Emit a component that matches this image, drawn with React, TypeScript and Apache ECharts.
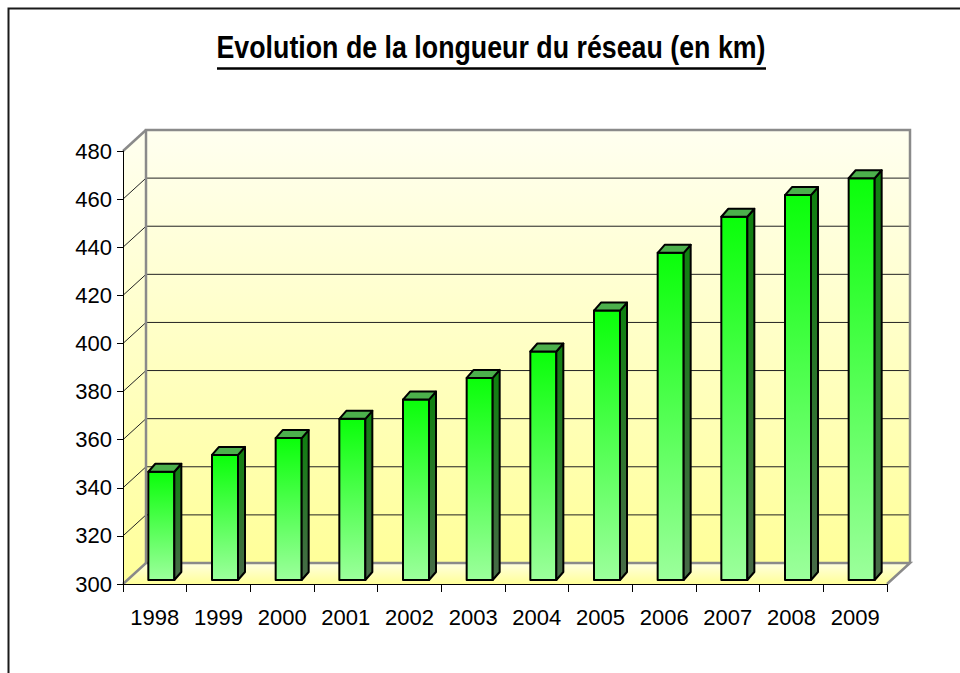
import React, { useEffect, useRef } from "react";
import * as echarts from "echarts";

const years = ["1998", "1999", "2000", "2001", "2002", "2003", "2004", "2005", "2006", "2007", "2008", "2009"];
const lengths = [345, 352, 359, 367, 375, 384, 395, 412, 436, 451, 460, 467];
const yMin = 300;
const yMax = 480;
const yStep = 20;
const titleText = "Evolution de la longueur du réseau (en km)";

const FONT = "'Liberation Sans', Arial, sans-serif";

export default function App() {
  const ref = useRef<HTMLDivElement>(null);
  useEffect(() => {
    if (!ref.current) return;
    const chart = echarts.init(ref.current, null, { renderer: "svg" });
    const D = [23, -21];

    const wallsRender = (params: any, api: any) => {
      const p0 = api.coord([0, yMin]);
      const bw = api.size([1, 0])[0];
      const xL = p0[0] - bw / 2;
      const xR = xL + bw * years.length;
      const yB = p0[1];
      const yT = api.coord([0, yMax])[1];
      const children: any[] = [];
      children.push({
        type: "polygon",
        shape: { points: [[xL + D[0], yT + D[1]], [xR + D[0], yT + D[1]], [xR + D[0], yB + D[1]], [xL + D[0], yB + D[1]]] },
        style: {
          fill: new echarts.graphic.LinearGradient(0, 0, 0, 1, [
            { offset: 0, color: "#FFFFF0" },
            { offset: 1, color: "#FFFF99" },
          ]),
        },
      });
      children.push({
        type: "polygon",
        shape: { points: [[xL, yT], [xL + D[0], yT + D[1]], [xL + D[0], yB + D[1]], [xL, yB]] },
        style: {
          fill: new echarts.graphic.LinearGradient(0, 0, 0, 1, [
            { offset: 0, color: "#FFFFF0" },
            { offset: 1, color: "#FFFF99" },
          ]),
        },
      });
      children.push({
        type: "polygon",
        shape: { points: [[xL, yB], [xR, yB], [xR + D[0], yB + D[1]], [xL + D[0], yB + D[1]]] },
        style: {
          fill: new echarts.graphic.LinearGradient(0, 0, 0, 1, [
            { offset: 0, color: "#FFFFE0" },
            { offset: 1, color: "#FFFF99" },
          ]),
        },
      });
      for (let v = yMin + yStep; v < yMax; v += yStep) {
        const y = api.coord([0, v])[1];
        children.push({
          type: "polyline",
          shape: { points: [[xL, y], [xL + D[0], y + D[1]], [xR + D[0], y + D[1]]] },
          style: { stroke: "#222", lineWidth: 1, fill: "none" },
        });
      }
      const edge = { stroke: "#8a8a8a", lineWidth: 2.5, fill: "none" };
      children.push({
        type: "polyline",
        shape: { points: [[xL + D[0], yB + D[1]], [xL + D[0], yT + D[1]], [xR + D[0], yT + D[1]], [xR + D[0], yB + D[1]]] },
        style: edge,
      });
      children.push({
        type: "polyline",
        shape: { points: [[xL, yB], [xL + D[0], yB + D[1]], [xR + D[0], yB + D[1]], [xR, yB]] },
        style: edge,
      });
      children.push({
        type: "line",
        shape: { x1: xL, y1: yT, x2: xL + D[0], y2: yT + D[1] },
        style: edge,
      });
      return { type: "group", children };
    };

    const barsRender = (params: any, api: any) => {
      const i = api.value(0);
      const v = api.value(1);
      const base = api.coord([i, yMin]);
      const top = api.coord([i, v]);
      const cx = base[0] + 6.5;
      const w = 26;
      const yb = base[1] - 4;
      const yt = top[1] - 4;
      const xl = cx - w / 2;
      const xr = cx + w / 2;
      const dx = 7;
      const dy = -8;
      const stroke = { stroke: "#000", lineWidth: 2, lineJoin: "round" };
      return {
        type: "group",
        children: [
          {
            type: "polygon",
            shape: { points: [[xl, yt], [xr, yt], [xr, yb], [xl, yb]] },
            style: {
              ...stroke,
              fill: new echarts.graphic.LinearGradient(0, 0, 0, 1, [
                { offset: 0, color: "#0AFF0A" },
                { offset: 1, color: "#9CFF9C" },
              ]),
            },
          },
          {
            type: "polygon",
            shape: { points: [[xr, yt], [xr + dx, yt + dy], [xr + dx, yb + dy], [xr, yb]] },
            style: {
              ...stroke,
              fill: new echarts.graphic.LinearGradient(0, 0, 0, 1, [
                { offset: 0, color: "#0F800F" },
                { offset: 1, color: "#486A48" },
              ]),
            },
          },
          {
            type: "polygon",
            shape: { points: [[xl, yt], [xr, yt], [xr + dx, yt + dy], [xl + dx, yt + dy]] },
            style: { ...stroke, fill: "#4CB04C" },
          },
        ],
      };
    };

    chart.setOption({
      animation: false,
      backgroundColor: "#ffffff",
      grid: { left: 123, right: 73, top: 151, bottom: 89, containLabel: false },
      xAxis: {
        type: "category",
        data: years,
        boundaryGap: true,
        z: 5,
        axisLine: { show: true, lineStyle: { color: "#000", width: 1 } },
        axisTick: { show: true, interval: 0, alignWithLabel: false, length: 8, lineStyle: { color: "#000" } },
        axisLabel: { interval: 0, color: "#000", fontSize: 22, fontFamily: FONT, margin: 22 },
        splitLine: { show: false },
      },
      yAxis: {
        type: "value",
        min: yMin,
        max: yMax,
        interval: yStep,
        z: 5,
        axisLine: { show: true, lineStyle: { color: "#000", width: 1 } },
        axisTick: { show: true, length: 6, lineStyle: { color: "#000" } },
        axisLabel: { color: "#000", fontSize: 22, fontFamily: FONT, margin: 11 },
        splitLine: { show: false },
      },
      graphic: [
        {
          type: "rect",
          shape: { x: 8.5, y: 8.5, width: 1000, height: 700 },
          style: { fill: "none", stroke: "#1a1a1a", lineWidth: 2 },
          silent: true,
        },
        {
          type: "text",
          x: 491,
          y: 47,
          scaleX: 0.837,
          style: {
            text: titleText,
            fill: "#000",
            font: `bold 32px ${FONT}`,
            textAlign: "center",
            textVerticalAlign: "middle",
          },
        },
        {
          type: "line",
          shape: { x1: 217, y1: 68.5, x2: 766, y2: 68.5 },
          style: { stroke: "#000", lineWidth: 2.5 },
        },
      ],
      series: [
        {
          type: "custom",
          z: 1,
          silent: true,
          renderItem: wallsRender,
          data: [[0, yMin]],
          encode: { x: 0, y: 1 },
        },
        {
          type: "custom",
          z: 3,
          renderItem: barsRender,
          data: years.map((_, i) => [i, lengths[i]]),
          encode: { x: 0, y: 1 },
        },
      ],
    });
    return () => chart.dispose();
  }, []);
  return (
    <div
      ref={ref}
      style={{ position: "absolute", left: 0, top: 0, width: 960, height: 673 }}
    />
  );
}
